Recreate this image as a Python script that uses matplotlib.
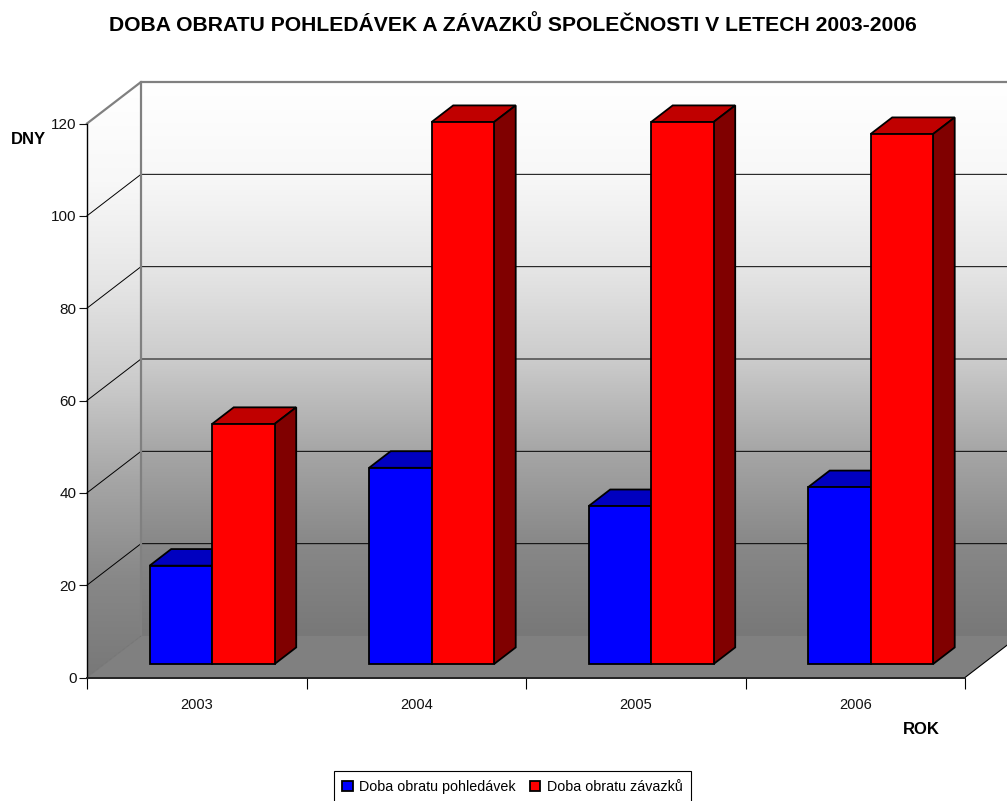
import numpy as np
import matplotlib
matplotlib.use("Agg")
import matplotlib.pyplot as plt
from matplotlib.patches import Polygon
from matplotlib.colors import LinearSegmentedColormap

plt.rcParams['font.family'] = ['Liberation Sans', 'DejaVu Sans']

years = ['2003', '2004', '2005', '2006']
pohledavky = [21.3, 42.5, 34.2, 38.3]
zavazky = [52.0, 117.4, 117.4, 114.8]
series_names = ['Doba obratu pohledávek', 'Doba obratu závazků']
y_ticks = [0, 20, 40, 60, 80, 100, 120]
title = 'DOBA OBRATU POHLEDÁVEK A ZÁVAZKŮ SPOLEČNOSTI V LETECH 2003-2006'

W, H = 1007, 801
fig = plt.figure(figsize=(W / 100, H / 100), dpi=100, facecolor='white')
ax = fig.add_axes([87 / W, (H - 677.5) / H, (965 - 87) / W, (677.5 - 123.5) / H])
ax.patch.set_visible(False)
n = len(years)
ax.set_xlim(0, n)
ax.set_ylim(0, 120)

# oblique projection: depth z (0 front, 1 back wall) in data units
DX = 54 / ((965 - 87) / n)
DY = 41.5 / ((677.5 - 123.5) / 120)


def proj(x, y, z):
    return (x + z * DX, y + z * DY)


def poly(points, **kw):
    p = Polygon([proj(*q) for q in points], closed=True, clip_on=False, **kw)
    ax.add_patch(p)
    return p


wall_colors = ['#ffffff', '#f8f8f8', '#e6e6e6', '#cccccc', '#a6a6a6', '#888888', '#787878']
cmap_back = LinearSegmentedColormap.from_list('b', wall_colors)
cmap_left = LinearSegmentedColormap.from_list('l', wall_colors)
grad = np.linspace(0, 1, 256).reshape(-1, 1)

# back wall
back_pts = [(0, 0, 1), (n, 0, 1), (n, 120, 1), (0, 120, 1)]
x0, y0 = proj(0, 0, 1)
x1, y1 = proj(n, 120, 1)
im = ax.imshow(grad, cmap=cmap_back, extent=(x0, x1, y0, y1), origin='upper', aspect='auto', zorder=1, vmin=0, vmax=1)
clip = poly(back_pts, facecolor='none', edgecolor='none', zorder=1)
im.set_clip_box(fig.bbox)
im.set_clip_path(clip)

# left wall
x2, _ = proj(0, 0, 0)
left_pts = [(0, 0, 0), (0, 0, 1), (0, 120, 1), (0, 120, 0)]
im2 = ax.imshow(grad, cmap=cmap_left, extent=(x2, x0, 0, y1), origin='upper', aspect='auto', zorder=1.1, vmin=0, vmax=1)
clip2 = poly(left_pts, facecolor='none', edgecolor='none', zorder=1.1)
im2.set_clip_box(fig.bbox)
im2.set_clip_path(clip2)
ax.set_xlim(0, n)
ax.set_ylim(0, 120)

# floor
poly([(0, 0, 0), (n, 0, 0), (n, 0, 1), (0, 0, 1)], facecolor='#808080', edgecolor='none', zorder=1.2)
ax.plot(*zip(proj(n, 0, 0), proj(n, 0, 1)), color='black', lw=0.8, clip_on=False, zorder=1.3)

# gridlines
for v in y_ticks[1:]:
    col = '#808080' if v == 120 else 'black'
    lw = 1.6 if v == 120 else 0.7
    ax.plot(*zip(proj(0, v, 0), proj(0, v, 1), proj(n, v, 1)), color=col, lw=lw, clip_on=False, zorder=1.5)
ax.plot(*zip(proj(0, 0, 1), proj(0, 120, 1)), color='#808080', lw=1.6, clip_on=False, zorder=1.5)
ax.plot(*zip(proj(0, 0, 0), proj(0, 0, 1)), color='#707070', lw=0.6, clip_on=False, zorder=1.5)

# bars
BAR = 62.5 / ((965 - 87) / n)
Z0, Z1 = 0.325, 0.725
OFF = -0.01
COLS = [('#0000ff', '#0000c0', '#000080'), ('#ff0000', '#c00000', '#800000')]
handles = []
for i in range(n):
    left = i + 0.5 + OFF - BAR
    for j, vals in enumerate((pohledavky, zavazky)):
        a = left + j * BAR
        b = a + BAR
        v = vals[i]
        face, top, side = COLS[j]
        kw = dict(edgecolor='black', lw=1.3, joinstyle='miter', zorder=3 + i + j * 0.1)
        poly([(a, v, Z0), (b, v, Z0), (b, v, Z1), (a, v, Z1)], facecolor=top, **kw)
        poly([(b, 0, Z0), (b, 0, Z1), (b, v, Z1), (b, v, Z0)], facecolor=side, **kw)
        h = poly([(a, 0, Z0), (b, 0, Z0), (b, v, Z0), (a, v, Z0)], facecolor=face, **kw)
        if i == 0:
            h.set_label(series_names[j])
            handles.append(h)

# axes
for s in ('top', 'right'):
    ax.spines[s].set_visible(False)
for s in ('left', 'bottom'):
    ax.spines[s].set_linewidth(1.0)
    ax.spines[s].set_zorder(2)
ax.spines['bottom'].set_linewidth(1.4)
ax.spines['bottom'].set_color('#222222')
ax.set_yticks(y_ticks)
ax.set_xticks(range(n + 1))
ax.set_xticklabels([])
ax.set_xticks(np.arange(n) + 0.5, minor=True)
ax.set_xticklabels(years, minor=True)
ax.tick_params(axis='y', length=6, width=0.8, labelsize=11, pad=1.5, colors='#111111')
ax.tick_params(axis='x', which='major', length=8, width=0.8)
ax.tick_params(axis='x', which='minor', length=0, labelsize=10.5, pad=15, colors='#111111')
ax.set_ylabel('DNY', rotation=0, fontsize=12, fontweight='bold', labelpad=0)
ax.yaxis.set_label_coords((28 - 87) / (965 - 87), (677.5 - 140) / (677.5 - 123.5))
ax.yaxis.label.set_verticalalignment('center')
ax.set_xlabel('ROK', fontsize=12, fontweight='bold')
ax.xaxis.set_label_coords((921 - 87) / (965 - 87), (677.5 - 730) / (677.5 - 123.5))
ax.xaxis.label.set_verticalalignment('center')

fig.text(512.5 / W, 1 - 25 / H, title, ha='center', va='center', fontsize=15.25, fontweight='bold', color='black')

leg = fig.legend(handles=handles, loc='center', bbox_to_anchor=(512.5 / W, 1 - 787 / H), ncol=2,
                 fontsize=10.3, frameon=True, fancybox=False, edgecolor='black', framealpha=1,
                 handlelength=0.72, handleheight=0.72, handletextpad=0.45, columnspacing=1.0,
                 borderpad=0.6, borderaxespad=0)
leg.get_frame().set_linewidth(0.8)

fig.savefig('out.png', dpi=100)
